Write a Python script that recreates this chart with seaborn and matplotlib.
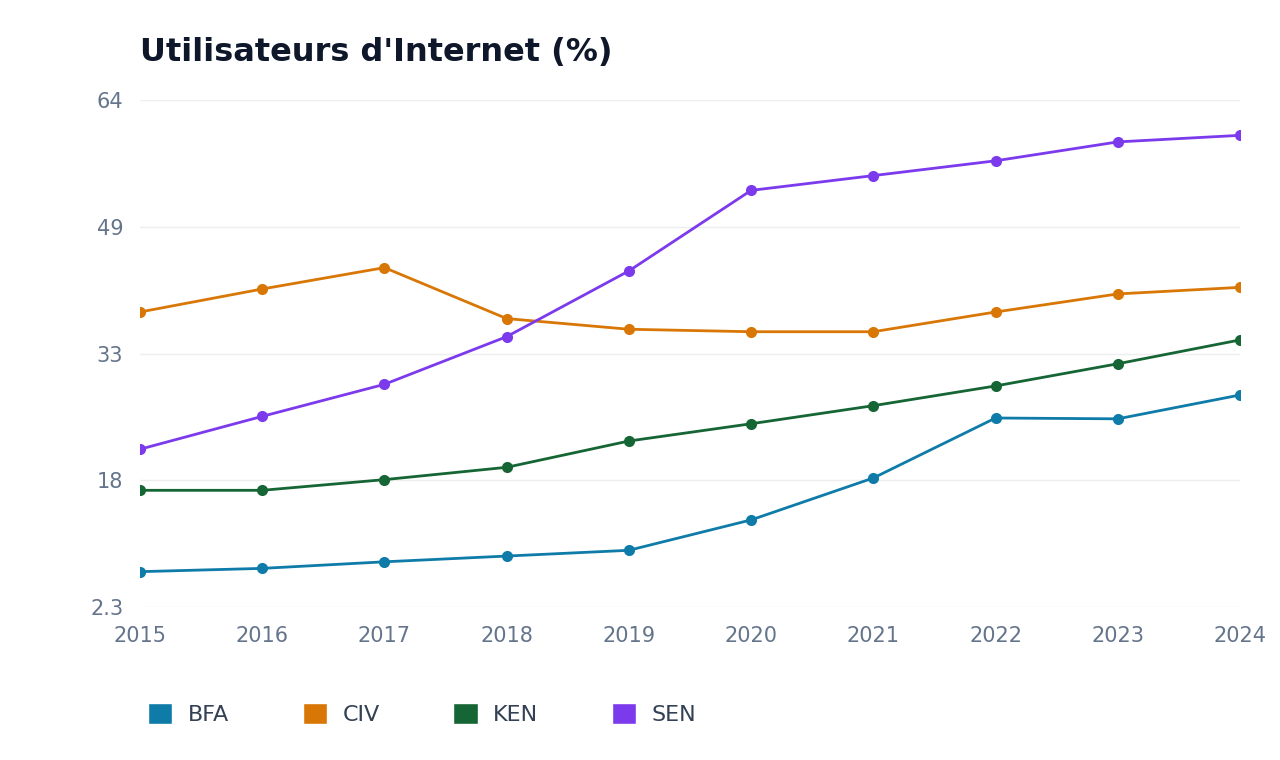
import matplotlib
matplotlib.use("Agg")
import matplotlib.pyplot as plt
import seaborn as sns
import pandas as pd
from matplotlib.patches import Patch

years = list(range(2015, 2025))
bfa = [6.6, 7.0, 7.8, 8.5, 9.2, 12.9, 18.0, 25.3, 25.2, 28.1]
civ = [38.2, 41.0, 43.6, 37.4, 36.1, 35.8, 35.8, 38.2, 40.4, 41.2]
ken = [16.5, 16.5, 17.8, 19.3, 22.5, 24.6, 26.8, 29.2, 31.9, 34.8]
sen = [21.5, 25.5, 29.4, 35.2, 43.2, 53.0, 54.8, 56.6, 58.9, 59.7]
names = ["BFA", "CIV", "KEN", "SEN"]
colors = ["#0e7ba8", "#d97706", "#166534", "#7c3aed"]
yticks = [2.3, 17.725, 33.15, 48.575, 64]
ylabels = ["2.3", "18", "33", "49", "64"]

rows = []
for n, vals in zip(names, [bfa, civ, ken, sen]):
    for y, v in zip(years, vals):
        rows.append({"year": y, "value": v, "country": n})
df = pd.DataFrame(rows)

sns.set_theme(style="white")
plt.rcParams['font.family'] = ['DejaVu Sans']
fig = plt.figure(figsize=(12.8, 7.6), dpi=100)
ax = fig.add_axes([140/1280, 1-607/760, 1100/1280, 507/760])
sns.lineplot(data=df, x="year", y="value", hue="country", palette=colors,
             marker="o", markersize=8, markeredgewidth=0, linewidth=2, ax=ax, legend=False)
ax.set_xlim(2015, 2024)
ax.set_ylim(2.3, 64)
ax.set_yticks(yticks)
ax.set_yticklabels(ylabels)
ax.set_xticks(years)
ax.grid(axis="y", color="#eeeeee", linewidth=1)
for s in ax.spines.values():
    s.set_visible(False)
ax.tick_params(axis="both", length=0, labelsize=15, labelcolor="#64748b")
ax.tick_params(axis="x", pad=14)
ax.tick_params(axis="y", pad=12)
ax.set_xlabel("")
ax.set_ylabel("")
fig.text(140/1280, 1-52/760, "Utilisateurs d'Internet (%)", fontsize=23, fontweight="bold",
         color="#0f172a", va="center")
handles = [Patch(facecolor=c, label=n) for n, c in zip(names, colors)]
fig.legend(handles=handles, loc="center left", bbox_to_anchor=(128/1280, 1-714/760), ncol=4,
           frameon=False, fontsize=16, handlelength=1.1, handleheight=1.1, handletextpad=0.7,
           columnspacing=3.3, labelcolor="#334155")
fig.savefig("out.png", dpi=100)
